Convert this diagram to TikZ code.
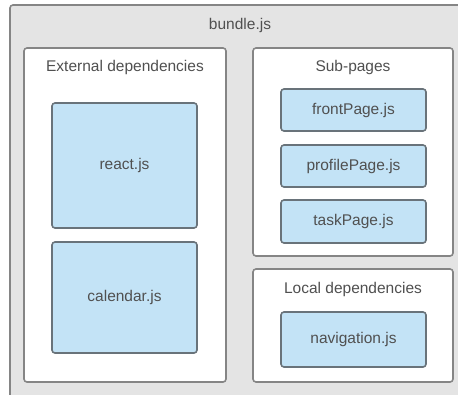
\documentclass[tikz,border=0pt]{standalone}
\usepackage{fontspec}
\setmainfont{Liberation Sans}
\definecolor{panelgray}{HTML}{E4E4E4}
\definecolor{edgegray}{HTML}{858585}
\definecolor{filefill}{HTML}{C3E3F6}
\definecolor{fileedge}{HTML}{69737A}
\definecolor{labelgray}{HTML}{505050}
\begin{document}
\begin{tikzpicture}[x=1pt, y=-1pt,
  groupbox/.style={draw=edgegray, fill=white, line width=1.6pt, rounded corners=3pt, inner sep=0pt},
  filebox/.style={draw=fileedge, fill=filefill, line width=1.6pt, rounded corners=3pt, inner sep=0pt,
    minimum width=145pt, text=labelgray, font=\fontsize{15.5}{18}\selectfont},
  caption/.style={text=labelgray, inner sep=0pt, font=\fontsize{15.5}{18}\selectfont}]
  \useasboundingbox (0,0) rectangle (458,394);
  \clip (0,0) rectangle (458,394);
  % outer bundle, runs off the right and bottom
  \node[draw=edgegray, fill=panelgray, line width=1.6pt, rounded corners=3pt,
    minimum width=460pt, minimum height=400pt] (bundle) at (240,205) {};
  \node[caption] (bundlelbl) at (240,25) {bundle.js};
  % external dependencies
  \node[groupbox, minimum width=202pt, minimum height=334pt] (extgrp) at (125,215) {};
  \node[caption] (extlbl) at (125,67) {External dependencies};
  \node[filebox, minimum height=125pt] (react) at (124.5,165.5) {react.js};
  \node[filebox, minimum height=111pt] (calendar) at (124.5,297.5) {calendar.js};
  % sub-pages
  \node[groupbox, minimum width=200pt, minimum height=208pt] (subgrp) at (353,152) {};
  \node[caption] (sublbl) at (353,67) {Sub-pages};
  \node[filebox, minimum height=42pt] (front) at (353.5,110) {frontPage.js};
  \node[filebox, minimum height=42pt] (profile) at (353.5,166) {profilePage.js};
  \node[filebox, minimum height=43pt] (task) at (353.5,221.5) {taskPage.js};
  % local dependencies
  \node[groupbox, minimum width=200pt, minimum height=113pt] (localgrp) at (353,325.5) {};
  \node[caption] (locallbl) at (353,289) {Local dependencies};
  \node[filebox, minimum height=55pt] (nav) at (353.5,339.5) {navigation.js};
\end{tikzpicture}
\end{document}
